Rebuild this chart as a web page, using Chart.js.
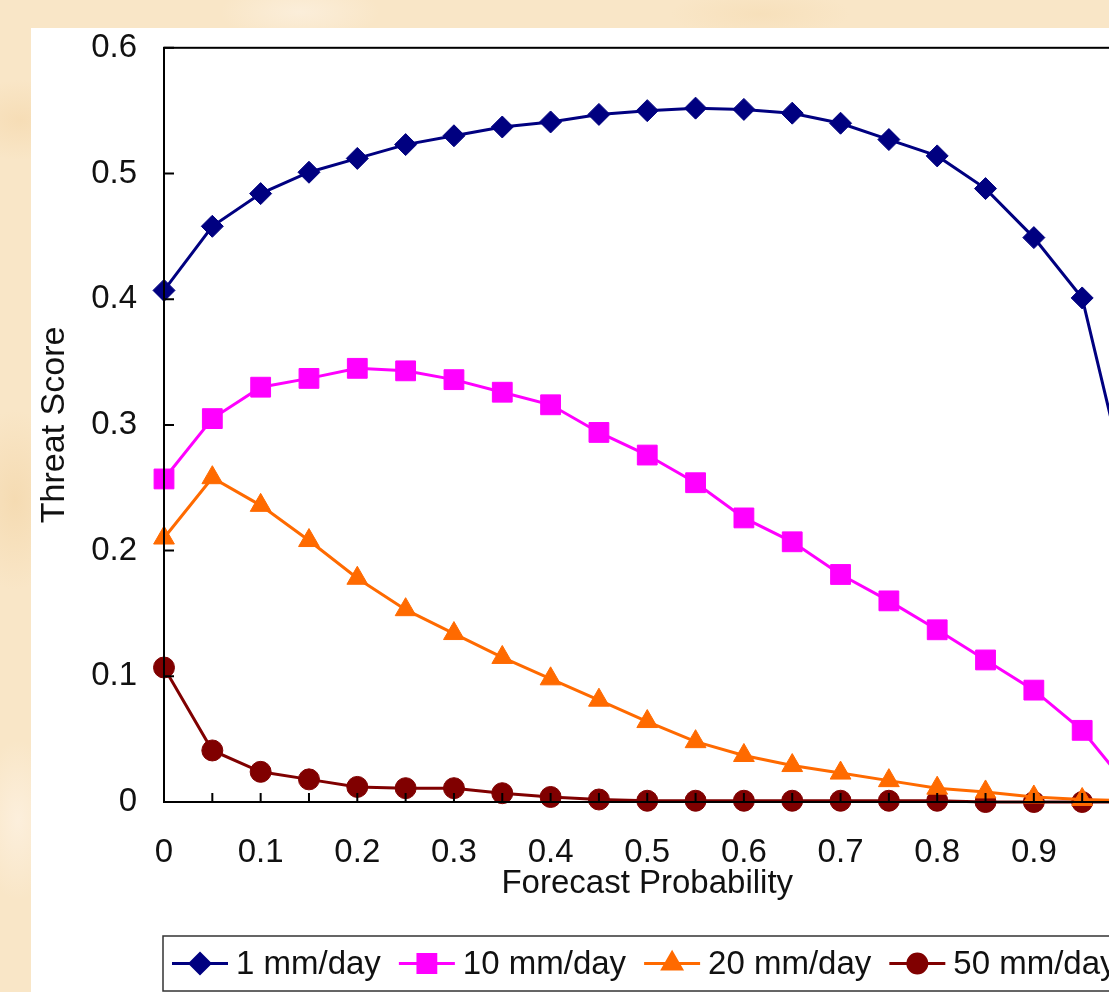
<!DOCTYPE html>
<html>
<head>
<meta charset="utf-8">
<script src="https://cdn.jsdelivr.net/npm/chart.js@4/dist/chart.umd.min.js"></script>
<style>
  html, body { margin: 0; padding: 0; }
  body {
    width: 1109px; height: 992px; overflow: hidden; position: relative;
    background:
      radial-gradient(ellipse 60px 40px at 20px 120px, #f6ddb6, transparent),
      radial-gradient(ellipse 80px 30px at 300px 12px, #fbeeda, transparent),
      radial-gradient(ellipse 50px 90px at 15px 500px, #f5dbb2, transparent),
      radial-gradient(ellipse 90px 25px at 760px 14px, #f7e0bb, transparent),
      radial-gradient(ellipse 40px 80px at 18px 820px, #fcefdc, transparent),
      #f9e6c7;
  }
  #panel { position: absolute; left: 31px; top: 28px; width: 1300px; height: 1000px; background: #fff; }
  #chart { position: absolute; left: 31px; top: 1px; }
</style>
</head>
<body>
<div id="panel"></div>
<canvas id="chart" width="1232" height="991"></canvas>
<script>
// forecast probability categories
const probabilities = [0, 0.05, 0.1, 0.15, 0.2, 0.25, 0.3, 0.35, 0.4, 0.45, 0.5,
                       0.55, 0.6, 0.65, 0.7, 0.75, 0.8, 0.85, 0.9, 0.95, 1];

const ts1mm  = [0.407, 0.458, 0.484, 0.501, 0.512, 0.523, 0.530, 0.537, 0.541, 0.547, 0.550,
                0.552, 0.551, 0.548, 0.540, 0.527, 0.514, 0.488, 0.449, 0.401, 0.24];
const ts10mm = [0.257, 0.305, 0.330, 0.337, 0.345, 0.343, 0.336, 0.326, 0.316, 0.294, 0.276,
                0.254, 0.226, 0.207, 0.181, 0.160, 0.137, 0.113, 0.089, 0.057, 0.01];
const ts20mm = [0.210, 0.258, 0.236, 0.208, 0.178, 0.153, 0.134, 0.115, 0.098, 0.081, 0.064,
                0.048, 0.037, 0.029, 0.023, 0.017, 0.011, 0.008, 0.004, 0.002, 0.001];
const ts50mm = [0.107, 0.041, 0.024, 0.018, 0.012, 0.011, 0.011, 0.007, 0.004, 0.002, 0.001,
                0.001, 0.001, 0.001, 0.001, 0.001, 0.001, 0, 0, 0, 0];

const seriesNames = ['1 mm/day', '10 mm/day', '20 mm/day', '50 mm/day'];
const xTickLabels = ['0', '0.1', '0.2', '0.3', '0.4', '0.5', '0.6', '0.7', '0.8', '0.9', '1'];
const yTickLabels = ['0', '0.1', '0.2', '0.3', '0.4', '0.5', '0.6'];

const styles = [
  { color: '#000080', point: 'rectRot', r: 11 },
  { color: '#ff00ff', point: 'rect', r: 14 },
  { color: '#ff6a00', point: 'triangle', r: 12 },
  { color: '#800000', point: 'circle', r: 10.5 }
];

const allSeries = [ts1mm, ts10mm, ts20mm, ts50mm];
const datasets = allSeries.map((vals, i) => ({
  label: seriesNames[i],
  data: probabilities.map((p, j) => ({ x: p, y: vals[j] })),
  borderColor: styles[i].color,
  backgroundColor: styles[i].color,
  borderWidth: 3,
  pointStyle: styles[i].point,
  pointRadius: styles[i].r,
  pointBorderWidth: 1,
  tension: 0,
  clip: false
}));

const font = 'Liberation Sans, Arial, sans-serif';

// plot frame, inward tick marks and the boxed legend below the axis title
const frame = {
  id: 'frame',
  afterDatasetsDraw(chart) {
    const { ctx, chartArea: a, scales: { x, y } } = chart;
    ctx.save();
    ctx.strokeStyle = '#000';
    ctx.lineWidth = 2;
    ctx.strokeRect(a.left, a.top, a.right - a.left, a.bottom - a.top);
    ctx.beginPath();
    probabilities.forEach(p => {
      const px = x.getPixelForValue(p);
      ctx.moveTo(px, a.bottom); ctx.lineTo(px, a.bottom - 9);
    });
    yTickLabels.forEach(t => {
      const py = y.getPixelForValue(parseFloat(t));
      ctx.moveTo(a.left, py); ctx.lineTo(a.left + 10, py);
    });
    ctx.stroke();

    const top = a.bottom + 134, h = 55, cy = top + h / 2;
    ctx.lineWidth = 1.5;
    ctx.strokeStyle = '#333';
    ctx.strokeRect(a.left - 1, top, 1400, h);
    ctx.font = '33px ' + font;
    ctx.textBaseline = 'middle';
    let cx = a.left + 8;
    chart.data.datasets.forEach((d, i) => {
      const st = styles[i];
      ctx.strokeStyle = st.color;
      ctx.fillStyle = st.color;
      ctx.lineWidth = 3;
      ctx.beginPath(); ctx.moveTo(cx, cy); ctx.lineTo(cx + 56, cy); ctx.stroke();
      Chart.helpers.drawPoint(ctx, { pointStyle: st.point, radius: st.r * 0.9, rotation: 0, borderWidth: 1 }, cx + 28, cy);
      cx += 64;
      ctx.fillStyle = '#111';
      ctx.fillText(d.label, cx, cy + 1);
      cx += ctx.measureText(d.label).width + 18;
    });
    ctx.restore();
  }
};

new Chart(document.getElementById('chart'), {
  type: 'line',
  data: { datasets },
  options: {
    responsive: false,
    animation: false,
    devicePixelRatio: 1,
    layout: { autoPadding: false, padding: { top: 19, right: 132.5, bottom: 72, left: 0 } },
    scales: {
      x: {
        type: 'linear',
        min: 0, max: 1,
        grid: { display: false, drawTicks: false },
        border: { display: false },
        afterFit: s => { s.height = 118; },
        ticks: {
          stepSize: 0.1,
          padding: 31,
          color: '#111',
          font: { family: font, size: 33 },
          callback: (v, i) => xTickLabels[i]
        },
        title: {
          display: true,
          text: 'Forecast Probability',
          color: '#111',
          font: { family: font, size: 33 },
          padding: { top: 0, bottom: 16 }
        }
      },
      y: {
        min: 0, max: 0.6,
        grid: { display: false, drawTicks: false },
        border: { display: false },
        afterFit: s => { s.width = 133; },
        ticks: {
          stepSize: 0.1,
          padding: 27,
          color: '#111',
          font: { family: font, size: 33 },
          callback: (v, i) => yTickLabels[i]
        },
        title: {
          display: true,
          text: 'Threat Score',
          color: '#111',
          font: { family: font, size: 34 },
          padding: { top: 3, bottom: 0 }
        }
      }
    },
    plugins: {
      tooltip: { enabled: false },
      legend: { display: false }
    }
  },
  plugins: [frame]
});
</script>
</body>
</html>
